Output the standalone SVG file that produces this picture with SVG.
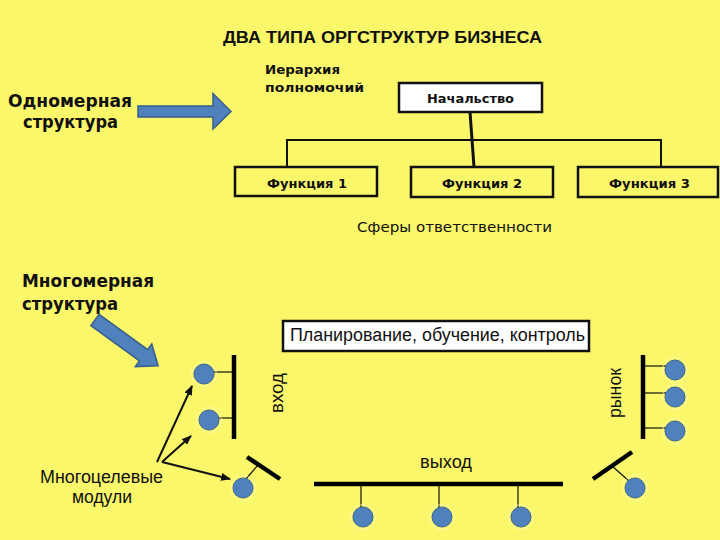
<svg xmlns="http://www.w3.org/2000/svg" width="720" height="540" viewBox="0 0 720 540">
<defs>
<style>
.b{font-family:"DejaVu Sans","Verdana",sans-serif;font-weight:bold;font-size:13px;fill:#111}
.big{font-family:"DejaVu Sans","Verdana",sans-serif;font-weight:bold;font-size:18px;fill:#111}
.a{font-family:"Liberation Sans",Arial,sans-serif;font-size:18px;fill:#111}
.box{fill:#FBF76B;stroke:#111;stroke-width:2.5}
.wbox{fill:#FFFFFF;stroke:#111;stroke-width:2.5}
.ln{stroke:#111;stroke-width:2;fill:none}
.thin{stroke:#111;stroke-width:1.2;fill:none}
.bar{stroke:#000;stroke-width:4.5;fill:none}
.dot{fill:#4F81BD;stroke:#3A6596;stroke-width:1}
.halo{fill:none;stroke:#FFFFB8;stroke-width:1;opacity:0.7}
.barrow{fill:#4F81BD;stroke:#385D8A;stroke-width:1.5}
</style>
<marker id="ah" viewBox="0 0 10 8" refX="9" refY="4" markerWidth="10" markerHeight="8" markerUnits="userSpaceOnUse" orient="auto">
<path d="M0,0 L10,4 L0,8 z" fill="#111"/>
</marker>
</defs>
<rect width="720" height="540" fill="#FBF76B"/>

<text x="382.5" y="43" font-family="'Liberation Sans',Arial,sans-serif" font-weight="bold" font-size="16" fill="#111" text-anchor="middle" textLength="319" lengthAdjust="spacingAndGlyphs">ДВА ТИПА ОРГСТРУКТУР БИЗНЕСА</text>

<g id="odnomernaya">
<text class="big" x="70" y="107" text-anchor="middle" textLength="124" lengthAdjust="spacingAndGlyphs">Одномерная</text>
<text class="big" x="70.5" y="128" text-anchor="middle" textLength="95" lengthAdjust="spacingAndGlyphs">структура</text>
</g>
<g id="arrow1">
<polygon class="barrow" points="138,106 213,106 213,93.5 231,111.5 213,129 213,117 138,117"/>
</g>

<g id="ierarhiya">
<text class="b" x="265" y="74" textLength="75" lengthAdjust="spacingAndGlyphs">Иерархия</text>
<text class="b" x="265" y="92" textLength="99" lengthAdjust="spacingAndGlyphs">полномочий</text>
</g>

<g id="connectors">
<polyline class="ln" points="287,167 287,140 661,140 661,167"/>
<line x1="470" y1="112" x2="474" y2="167" stroke="#111" stroke-width="3"/>
<line class="thin" x1="214" y1="372" x2="234" y2="372"/>
<line class="thin" x1="219" y1="418" x2="234" y2="418"/>
<line class="thin" x1="246" y1="479" x2="258" y2="465"/>
<line class="thin" x1="361" y1="484" x2="361" y2="508"/>
<line class="thin" x1="439" y1="484" x2="439" y2="508"/>
<line class="thin" x1="518" y1="484" x2="518" y2="508"/>
<line class="thin" x1="643" y1="366" x2="667" y2="366"/>
<line class="thin" x1="643" y1="393" x2="667" y2="393"/>
<line class="thin" x1="643" y1="428" x2="667" y2="428"/>
<line class="thin" x1="612" y1="466" x2="629" y2="481"/>
<line class="ln" x1="157" y1="462" x2="192" y2="386" marker-end="url(#ah)"/>
<line class="ln" x1="162" y1="462" x2="191" y2="436" marker-end="url(#ah)"/>
<line class="ln" x1="162" y1="462" x2="230" y2="479" marker-end="url(#ah)"/>
</g>

<g id="nachalstvo">
<rect class="wbox" x="399" y="83" width="143" height="29"/>
<text class="b" x="470.5" y="103" text-anchor="middle" textLength="87" lengthAdjust="spacingAndGlyphs">Начальство</text>
</g>
<g id="funkciya1">
<rect class="box" x="235" y="167" width="142" height="29"/>
<text class="b" x="307" y="188" text-anchor="middle" textLength="80" lengthAdjust="spacingAndGlyphs">Функция 1</text>
</g>
<g id="funkciya2">
<rect class="box" x="411" y="167" width="142" height="30"/>
<text class="b" x="482" y="188" text-anchor="middle" textLength="80" lengthAdjust="spacingAndGlyphs">Функция 2</text>
</g>
<g id="funkciya3">
<rect class="box" x="578" y="167" width="140" height="30"/>
<text class="b" x="649.5" y="188" text-anchor="middle" textLength="81" lengthAdjust="spacingAndGlyphs">Функция 3</text>
</g>

<text x="454.5" y="232" font-family="'DejaVu Sans',Verdana,sans-serif" font-size="13.5" fill="#111" text-anchor="middle" textLength="195" lengthAdjust="spacingAndGlyphs">Сферы ответственности</text>

<g id="mnogomernaya">
<text class="big" x="22" y="287" textLength="132" lengthAdjust="spacingAndGlyphs">Многомерная</text>
<text class="big" x="22" y="310" textLength="96" lengthAdjust="spacingAndGlyphs">структура</text>
</g>
<g id="arrow2">
<polygon class="barrow" transform="translate(95,320) rotate(36)" points="0,-7 60,-7 60,-14 78,0 60,14 60,7 0,7"/>
</g>

<g id="planirovanie">
<rect class="wbox" x="283" y="321" width="306" height="30"/>
<text class="a" x="437.5" y="341" text-anchor="middle" textLength="295" lengthAdjust="spacingAndGlyphs">Планирование, обучение, контроль</text>
</g>

<g id="vhod">
<line class="bar" x1="234" y1="355" x2="234" y2="439" stroke-width="4"/>
<circle class="halo" cx="204" cy="374" r="12.5"/>
<circle class="dot" cx="204" cy="374" r="10"/>
<circle class="halo" cx="209" cy="420" r="12.5"/>
<circle class="dot" cx="209" cy="420" r="10"/>
<text class="a" transform="translate(283,393) rotate(-90)" x="0" y="0" text-anchor="middle" textLength="40" lengthAdjust="spacingAndGlyphs">вход</text>
</g>

<g id="left-diag">
<line class="bar" x1="247" y1="457" x2="280" y2="479" stroke-width="5.5"/>
<circle class="halo" cx="243" cy="488" r="12.5"/>
<circle class="dot" cx="243" cy="488" r="10"/>
</g>

<g id="vyhod">
<line class="bar" x1="314" y1="484" x2="563" y2="484"/>
<circle class="halo" cx="363" cy="517" r="12.5"/>
<circle class="dot" cx="363" cy="517" r="10"/>
<circle class="halo" cx="442" cy="517" r="12.5"/>
<circle class="dot" cx="442" cy="517" r="10"/>
<circle class="halo" cx="521" cy="517" r="12.5"/>
<circle class="dot" cx="521" cy="517" r="10"/>
<text class="a" x="446" y="468" text-anchor="middle" textLength="52" lengthAdjust="spacingAndGlyphs">выход</text>
</g>

<g id="rynok">
<line class="bar" x1="643" y1="355" x2="643" y2="439" stroke-width="4"/>
<circle class="halo" cx="675" cy="370" r="12.5"/>
<circle class="dot" cx="675" cy="370" r="10"/>
<circle class="halo" cx="675" cy="397" r="12.5"/>
<circle class="dot" cx="675" cy="397" r="10"/>
<circle class="halo" cx="675" cy="431" r="12.5"/>
<circle class="dot" cx="675" cy="431" r="10"/>
<text class="a" transform="translate(621,393) rotate(-90)" x="0" y="0" text-anchor="middle" textLength="50" lengthAdjust="spacingAndGlyphs">рынок</text>
</g>

<g id="right-diag">
<line class="bar" x1="593" y1="479" x2="632" y2="452" stroke-width="5.5"/>
<circle class="halo" cx="635" cy="488" r="12.5"/>
<circle class="dot" cx="635" cy="488" r="10"/>
</g>

<g id="moduli">
<text class="a" x="101.5" y="483" font-size="16.5" text-anchor="middle" textLength="123" lengthAdjust="spacingAndGlyphs">Многоцелевые</text>
<text class="a" x="102" y="503" font-size="16.5" text-anchor="middle" textLength="60" lengthAdjust="spacingAndGlyphs">модули</text>
</g>
</svg>
